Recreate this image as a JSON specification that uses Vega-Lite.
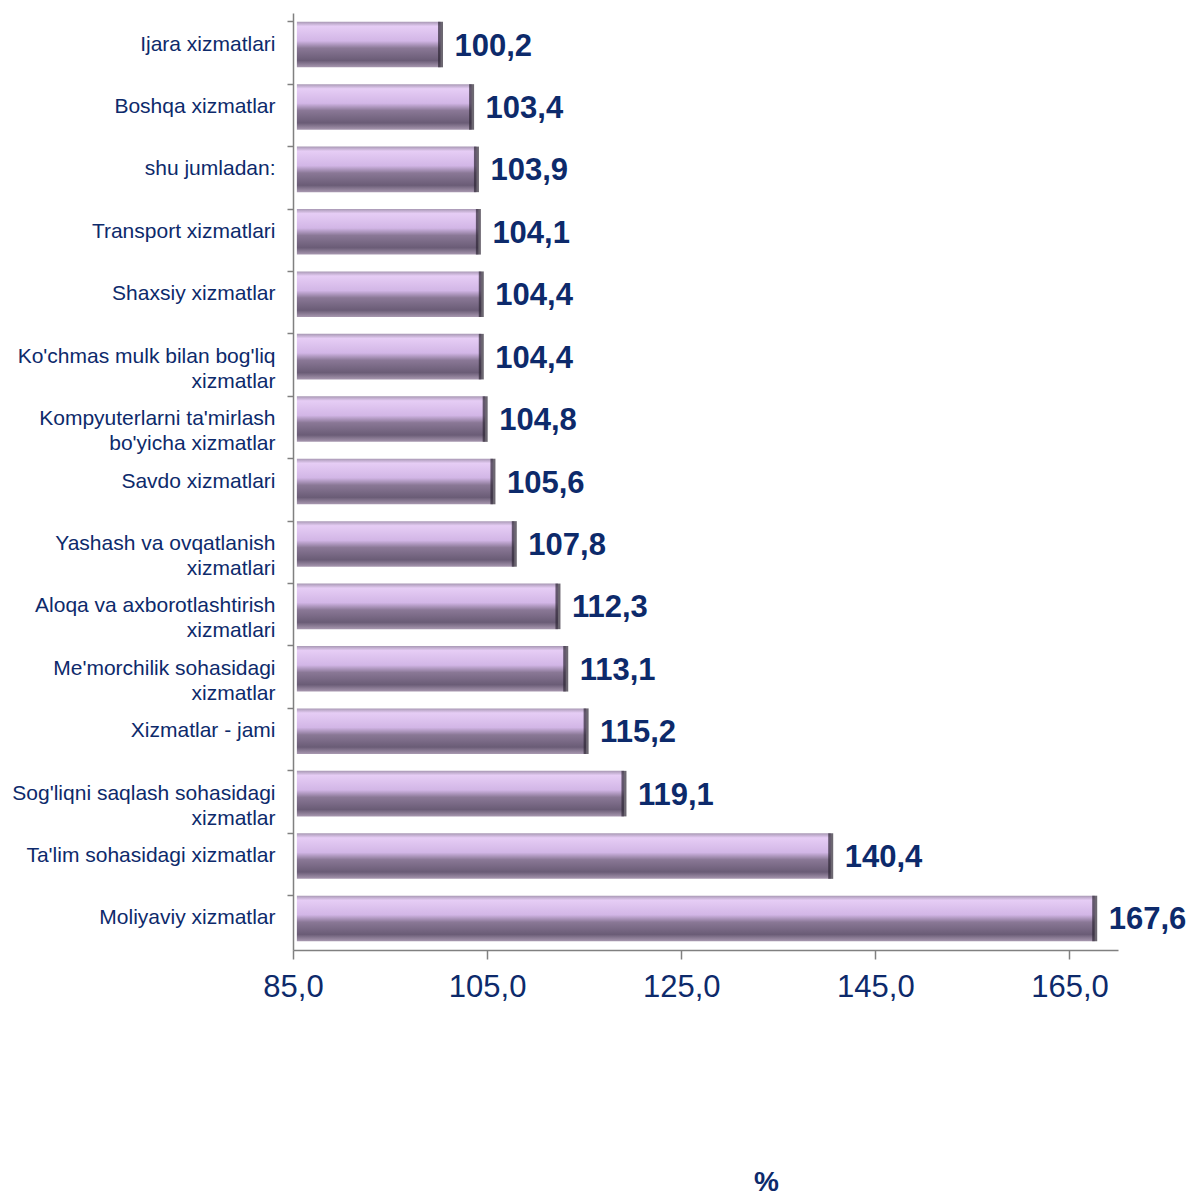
{
  "$schema": "https://vega.github.io/schema/vega-lite/v6.json",
  "autosize": "none",
  "width": 825,
  "height": 937,
  "padding": {"left": 293, "top": 13, "right": 74, "bottom": 246},
  "background": "white",
  "config": {
    "view": {"stroke": null},
    "font": "Liberation Sans",
    "locale": {"number": {"decimal": ",", "thousands": " ", "grouping": [3], "currency": ["", ""]}}
  },
  "data": {"values": [
    {"name": "Ijara xizmatlari", "value": 100.2},
    {"name": "Boshqa xizmatlar", "value": 103.4},
    {"name": "shu jumladan:", "value": 103.9},
    {"name": "Transport xizmatlari", "value": 104.1},
    {"name": "Shaxsiy xizmatlar", "value": 104.4},
    {"name": "Ko'chmas mulk bilan bog'liq|xizmatlar", "value": 104.4},
    {"name": "Kompyuterlarni ta'mirlash|bo'yicha xizmatlar", "value": 104.8},
    {"name": "Savdo xizmatlari", "value": 105.6},
    {"name": "Yashash va ovqatlanish|xizmatlari", "value": 107.8},
    {"name": "Aloqa va axborotlashtirish|xizmatlari", "value": 112.3},
    {"name": "Me'morchilik sohasidagi|xizmatlar", "value": 113.1},
    {"name": "Xizmatlar - jami", "value": 115.2},
    {"name": "Sog'liqni saqlash sohasidagi|xizmatlar", "value": 119.1},
    {"name": "Ta'lim sohasidagi xizmatlar", "value": 140.4},
    {"name": "Moliyaviy xizmatlar", "value": 167.6}
  ]},
  "encoding": {
    "y": {
      "field": "name", "type": "nominal", "sort": null,
      "scale": {"paddingInner": 0.27, "paddingOuter": 0.14},
      "axis": {
        "title": null,
        "labelExpr": "split(datum.label, '|')",
        "labelFontSize": 21,
        "labelColor": "#0d2a6b",
        "labelPadding": 12,
        "labelLineHeight": 25,
        "labelLimit": 300,
        "bandPosition": 0,
        "tickSize": 6,
        "tickColor": "#808080",
        "domainColor": "#808080",
        "domainWidth": 1.5,
        "tickWidth": 1.5
      }
    }
  },
  "layer": [
    {
      "mark": {
        "type": "bar",
        "fill": {
          "gradient": "linear", "x1": 0, "y1": 0, "x2": 0, "y2": 1,
          "stops": [
            {"offset": 0, "color": "#a898b4"},
            {"offset": 0.1, "color": "#e6cdf5"},
            {"offset": 0.42, "color": "#d2b6e6"},
            {"offset": 0.58, "color": "#8a7896"},
            {"offset": 0.85, "color": "#6a5c76"},
            {"offset": 1, "color": "#a898b0"}
          ]
        }
      },
      "encoding": {
        "x": {
          "field": "value", "type": "quantitative",
          "scale": {"domain": [85, 170], "zero": false, "nice": false},
          "axis": {
            "values": [85, 105, 125, 145, 165],
            "format": ".1f",
            "labelFlush": false,
            "labelFontSize": 31,
            "labelColor": "#0d2a6b",
            "labelPadding": 13,
            "tickSize": 9,
            "tickColor": "#808080",
            "domainColor": "#808080",
            "domainWidth": 1.5,
            "tickWidth": 1.5,
            "grid": false,
            "title": "%",
            "titleFontSize": 28,
            "titleFontWeight": "bold",
            "titleColor": "#0d2a6b",
            "titleX": 473,
            "titleY": 240,
            "titleBaseline": "alphabetic"
          }
        },
        "x2": {"datum": 85.4}
      }
    },
    {
      "mark": {"type": "tick", "color": "#2e2634", "thickness": 5, "orient": "vertical", "bandSize": 46},
      "encoding": {
        "x": {"field": "value", "type": "quantitative"}
      }
    },
    {
      "mark": {"type": "text", "align": "left", "baseline": "middle", "dx": 14, "dy": 2, "fontSize": 31, "fontWeight": "bold", "color": "#0d2a6b"},
      "encoding": {
        "x": {"field": "value", "type": "quantitative"},
        "text": {"field": "value", "type": "quantitative", "format": ".1f"}
      }
    }
  ]
}
